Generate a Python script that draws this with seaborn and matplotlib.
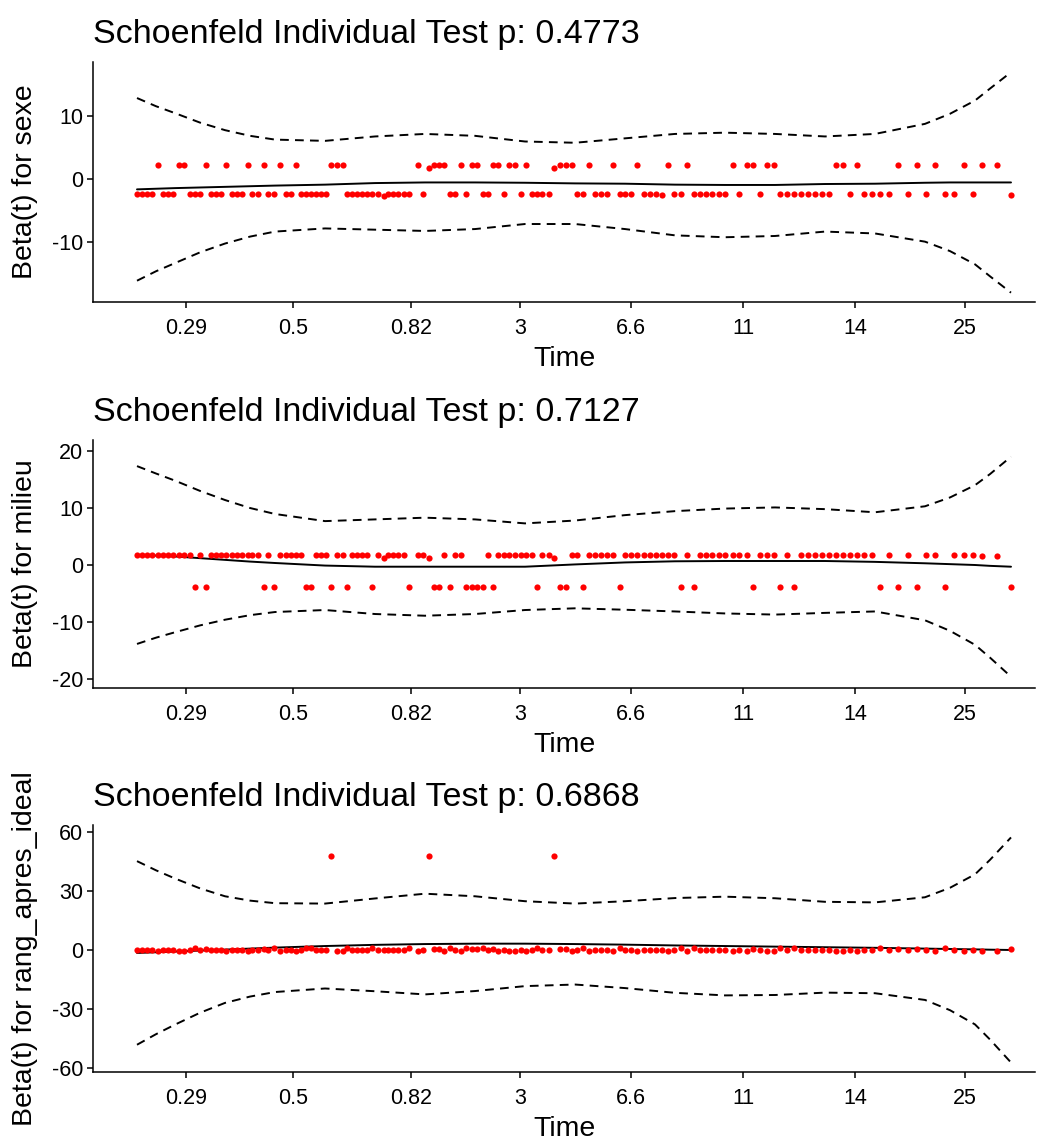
import matplotlib
matplotlib.use("Agg")
import matplotlib.pyplot as plt
import seaborn as sns
import pandas as pd

sns.set_theme(style="ticks")
plt.rcParams['font.family'] = ['Liberation Sans', 'DejaVu Sans']

# KM-transformed event time (arbitrary linear scale)
event_x = [137, 142, 147, 152, 158, 163, 168, 173, 179, 184,
           190, 195, 200, 206, 211, 216, 221, 226, 232, 237,
           242, 248, 252, 258, 264, 268, 274, 280, 286, 291,
           296, 301, 306, 311, 316, 321, 326, 331, 337, 343,
           347, 352, 357, 362, 367, 372, 378, 384, 388, 393,
           398, 404, 409, 418, 423, 429, 434, 439, 444, 450,
           455, 461, 466, 472, 477, 483, 488, 493, 498, 504,
           509, 515, 521, 526, 532, 537, 542, 549, 554, 560,
           566, 572, 577, 583, 589, 595, 601, 607, 613, 620,
           625, 631, 637, 644, 650, 656, 662, 668, 674, 681,
           687, 694, 700, 706, 712, 719, 725, 733, 739, 747,
           753, 760, 767, 774, 780, 787, 794, 801, 808, 815,
           822, 829, 836, 843, 850, 857, 864, 872, 880, 889,
           898, 908, 917, 926, 935, 945, 954, 964, 973, 982,
           997, 1011]

beta_sexe = [-2.3, -2.3, -2.3, -2.3, 2.2, -2.3, -2.3, -2.3, 2.2, 2.2,
             -2.3, -2.3, -2.3, 2.2, -2.3, -2.3, -2.3, 2.2, -2.3, -2.3,
             -2.3, 2.2, -2.3, -2.3, 2.2, -2.3, -2.3, 2.2, -2.3, -2.3,
             2.2, -2.3, -2.3, -2.3, -2.3, -2.3, -2.3, 2.2, 2.2, 2.2,
             -2.3, -2.3, -2.3, -2.3, -2.3, -2.3, -2.3, -2.65, -2.3, -2.3,
             -2.3, -2.3, -2.3, 2.2, -2.3, 1.85, 2.2, 2.2, 2.2, -2.3,
             -2.3, 2.2, -2.3, 2.2, 2.2, -2.3, -2.3, 2.2, 2.2, -2.3,
             2.2, 2.2, -2.3, 2.2, -2.3, -2.3, -2.3, -2.3, 1.85, 2.2,
             2.2, 2.2, -2.3, -2.3, 2.2, -2.3, -2.3, -2.3, 2.2, -2.3,
             -2.3, -2.3, 2.2, -2.3, -2.3, -2.3, -2.45, 2.2, -2.3, -2.3,
             2.2, -2.3, -2.3, -2.3, -2.3, -2.3, -2.3, 2.2, -2.3, 2.2,
             2.2, -2.3, 2.2, 2.2, -2.3, -2.3, -2.3, -2.3, -2.3, -2.3,
             -2.3, -2.3, 2.2, 2.2, -2.3, 2.2, -2.3, -2.3, -2.3, -2.3,
             2.2, -2.3, 2.2, -2.3, 2.2, -2.3, -2.3, 2.2, -2.3, 2.2,
             2.2, -2.5]

beta_milieu = [1.75, 1.75, 1.75, 1.75, 1.75, 1.75, 1.75, 1.75, 1.75, 1.75,
               1.75, -3.85, 1.75, -3.85, 1.75, 1.75, 1.75, 1.75, 1.75, 1.75,
               1.75, 1.75, 1.75, 1.75, -3.85, 1.75, -3.85, 1.75, 1.75, 1.75,
               1.75, 1.75, -3.85, -3.85, 1.75, 1.75, 1.75, -3.85, 1.75, 1.75,
               -3.85, 1.75, 1.75, 1.75, 1.75, -3.85, 1.75, 1.3, 1.75, 1.75,
               1.75, 1.75, -3.85, 1.75, 1.75, 1.3, -3.85, -3.85, 1.75, -3.85,
               1.75, 1.75, -3.85, -3.85, -3.85, -3.85, 1.75, -3.85, 1.75, 1.75,
               1.75, 1.75, 1.75, 1.75, 1.75, -3.85, 1.75, 1.75, 1.3, -3.85,
               -3.85, 1.75, 1.75, -3.85, 1.75, 1.75, 1.75, 1.75, 1.75, -3.85,
               1.75, 1.75, 1.75, 1.75, 1.75, 1.75, 1.75, 1.75, 1.75, -3.85,
               1.75, -3.85, 1.75, 1.75, 1.75, 1.75, 1.75, 1.75, 1.75, 1.75,
               -3.85, 1.75, 1.75, 1.75, -3.85, 1.75, -3.85, 1.75, 1.75, 1.75,
               1.75, 1.75, 1.75, 1.75, 1.75, 1.75, 1.75, 1.75, -3.85, 1.75,
               -3.85, 1.75, -3.85, 1.75, 1.75, -3.85, 1.75, 1.75, 1.75, 1.55,
               1.55, -3.85]

beta_rang = [0.1, 0.1, 0.1, 0.1, -0.5, 0.1, 0.1, 0.1, -0.5, -0.5,
             0.1, 0.9, 0.1, 0.4, 0.1, 0.1, 0.1, -0.5, 0.1, 0.1,
             0.1, -0.5, 0.1, 0.1, 0.4, 0.1, 0.9, -0.5, 0.1, 0.1,
             -0.5, 0.1, 0.9, 0.9, 0.1, 0.1, 0.1, 47.5, -0.5, -0.5,
             0.9, 0.1, 0.1, 0.1, 0.1, 0.9, 0.1, 0.1, 0.1, 0.1,
             0.1, 0.1, 0.9, -0.5, 0.1, 47.5, 0.4, 0.4, -0.5, 0.9,
             0.1, -0.5, 0.9, 0.4, 0.4, 0.9, 0.1, 0.4, -0.5, 0.1,
             -0.5, -0.5, 0.1, -0.5, 0.1, 0.9, 0.1, 0.1, 47.5, 0.4,
             0.4, -0.5, 0.1, 0.9, -0.5, 0.1, 0.1, 0.1, -0.5, 0.9,
             0.1, 0.1, -0.5, 0.1, 0.1, 0.1, 0.1, -0.5, 0.1, 0.9,
             -0.5, 0.9, 0.1, 0.1, 0.1, 0.1, 0.1, -0.5, 0.1, -0.5,
             0.4, 0.1, -0.5, -0.5, 0.9, 0.1, 0.9, 0.1, 0.1, 0.1,
             0.1, 0.1, -0.5, -0.5, 0.1, -0.5, 0.1, 0.1, 0.9, 0.1,
             0.4, 0.1, 0.4, 0.1, -0.5, 0.9, 0.1, -0.5, 0.1, -0.5,
             -0.5, 0.3]

# smoothed beta(t) and its +/- 2 SE half-width, read at grid points
smooth_x = [137, 156, 175, 200, 225, 250, 275, 325, 375, 425, 475, 525, 575,
            625, 675, 725, 775, 825, 875, 925, 950, 975, 990, 1011]
fit_sexe = [-1.6, -1.5, -1.4, -1.3, -1.2, -1.1, -1.0, -0.85, -0.6, -0.5, -0.5, -0.55, -0.65,
            -0.7, -0.85, -0.9, -0.9, -0.75, -0.7, -0.55, -0.5, -0.5, -0.5, -0.5]
hw_sexe = [14.5, 13.1, 11.9, 10.3, 9.0, 8.0, 7.3, 6.95, 7.4, 7.7, 7.4, 6.55, 6.45,
           7.2, 8.05, 8.3, 8.1, 7.55, 7.9, 9.35, 10.9, 13.0, 14.9, 17.5]
fit_milieu = [1.75, 1.65, 1.5, 1.2, 0.9, 0.6, 0.35, -0.1, -0.3, -0.3, -0.3, -0.3, 0.1,
              0.45, 0.65, 0.7, 0.7, 0.7, 0.55, 0.3, 0.15, 0.0, -0.15, -0.3]
hw_milieu = [15.6, 14.4, 13.3, 11.8, 10.5, 9.4, 8.6, 7.8, 8.3, 8.6, 8.3, 7.6, 7.7,
             8.3, 8.8, 9.2, 9.4, 9.1, 8.7, 10.0, 11.7, 14.0, 16.1, 19.3]
fit_rang = [-1.5, -1.15, -0.8, -0.3, 0.2, 0.7, 1.2, 2.0, 2.6, 3.0, 3.2, 3.2, 3.0,
            2.7, 2.3, 2.0, 1.7, 1.4, 1.1, 0.7, 0.5, 0.3, 0.15, 0.0]
hw_rang = [46.5, 41.5, 37.0, 31.5, 27.0, 24.3, 22.5, 21.5, 23.5, 25.5, 24.0, 21.5, 20.5,
           22.0, 24.0, 25.0, 24.5, 23.0, 23.0, 26.0, 31.0, 38.0, 45.5, 57.0]

tick_pos = [186, 293, 411, 520, 631, 743, 855, 965]
tick_labels = ["0.29", "0.5", "0.82", "3", "6.6", "11", "14", "25"]

p_values = ["0.4773", "0.7127", "0.6868"]
covariates = ["sexe", "milieu", "rang_apres_ideal"]
yticks_list = [[-10, 0, 10], [-20, -10, 0, 10, 20], [-60, -30, 0, 30, 60]]
ylims = [(-19.48, 18.62), (-21.58, 21.93), (-61.8, 63.3)]

W, H = 1046, 1140
fig = plt.figure(figsize=(W / 100, H / 100), dpi=100)

panel_px = [(62, 302), (440, 688), (825, 1072)]
x_left, x_right = 93, 1035

betas = [beta_sexe, beta_milieu, beta_rang]
fits = [fit_sexe, fit_milieu, fit_rang]
hws = [hw_sexe, hw_milieu, hw_rang]

for i in range(3):
    top, bot = panel_px[i]
    ax = fig.add_axes([x_left / W, 1 - bot / H, (x_right - x_left) / W, (bot - top) / H])
    pts = pd.DataFrame({"x": event_x, "y": betas[i]})
    sm = pd.DataFrame({"x": smooth_x,
                       "fit": fits[i],
                       "upper": [f + h for f, h in zip(fits[i], hws[i])],
                       "lower": [f - h for f, h in zip(fits[i], hws[i])]})
    sns.scatterplot(data=pts, x="x", y="y", ax=ax, color="#FF0000", s=20,
                    linewidth=0, zorder=3)
    sns.lineplot(data=sm, x="x", y="fit", ax=ax, color="black", lw=1.4, zorder=2)
    for col in ["upper", "lower"]:
        sns.lineplot(data=sm, x="x", y=col, ax=ax, color="black", lw=1.4,
                     zorder=2).lines[-1].set_dashes([4.5, 3.2])
    ax.set_xlim(x_left, x_right)
    ax.set_ylim(*ylims[i])
    ax.set_xticks(tick_pos)
    ax.set_xticklabels(tick_labels)
    ax.set_yticks(yticks_list[i])
    ax.set_yticklabels([str(v) for v in yticks_list[i]])
    ax.tick_params(axis="both", labelsize=15.5, length=4, width=1.1,
                   color="black", labelcolor="black")
    ax.tick_params(axis="x", pad=7.5)
    ax.tick_params(axis="y", pad=3)
    for s in ["top", "right"]:
        ax.spines[s].set_visible(False)
    for s in ["left", "bottom"]:
        ax.spines[s].set_linewidth(1.1)
        ax.spines[s].set_color("black")
    ax.set_xlabel("Time", fontsize=20.5, color="black", labelpad=5)
    ax.set_ylabel("Beta(t) for " + covariates[i], fontsize=20.5, color="black", labelpad=10)
    ax.set_title("Schoenfeld Individual Test p: " + p_values[i], loc="left",
                 fontsize=24.5, color="black", pad=14)

fig.savefig("out.png", dpi=100)
